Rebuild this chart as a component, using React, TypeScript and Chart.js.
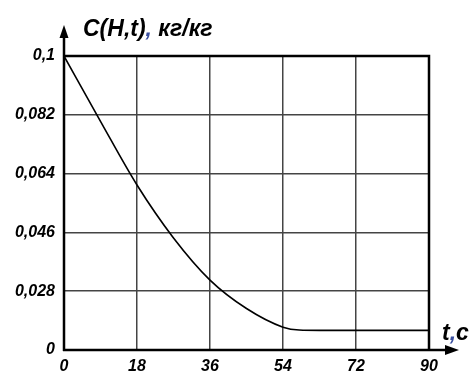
import React, { useEffect, useRef } from "react";
import { Chart, registerables } from "chart.js";

Chart.register(...registerables);

// time, s
const tValues = [0, 9, 18, 27, 36, 45, 54, 58, 63, 72, 81, 90];
// concentration C(H,t), kg/kg (axis starts at 0.01, labelled "0")
const cValues = [0.1, 0.08, 0.0605, 0.0443, 0.0314, 0.0227, 0.017, 0.0161, 0.016, 0.016, 0.016, 0.016];

const xTickValues = [0, 18, 36, 54, 72, 90];
const yTickValues = [0.01, 0.028, 0.046, 0.064, 0.082, 0.1];
const yTickLabels = ["0", "0,028", "0,046", "0,064", "0,082", "0,1"];

const yTitle = ["C(H,t)", ",", " кг/кг"];
const xTitle = ["t", ",", "c"];

const FONT = "'Liberation Sans', Arial, sans-serif";

const overlay = {
  id: "overlay",
  afterDraw(chart: any) {
    const { ctx, chartArea } = chart;
    const { left, right, top, bottom } = chartArea;
    ctx.save();
    ctx.strokeStyle = "#000";
    ctx.fillStyle = "#000";
    // y axis extension + arrow
    ctx.lineWidth = 2.5;
    ctx.beginPath();
    ctx.moveTo(left, bottom + 1);
    ctx.lineTo(left, top - 20);
    ctx.stroke();
    ctx.beginPath();
    ctx.moveTo(left, top - 31);
    ctx.lineTo(left - 4.5, top - 18);
    ctx.lineTo(left + 4.5, top - 18);
    ctx.closePath();
    ctx.fill();
    // x axis extension + arrow
    ctx.beginPath();
    ctx.moveTo(left - 1, bottom);
    ctx.lineTo(right + 18, bottom);
    ctx.stroke();
    ctx.beginPath();
    ctx.moveTo(right + 30, bottom);
    ctx.lineTo(right + 16, bottom - 5);
    ctx.lineTo(right + 16, bottom + 5);
    ctx.closePath();
    ctx.fill();
    // frame top/right
    ctx.lineWidth = 2.5;
    ctx.beginPath();
    ctx.moveTo(left, top);
    ctx.lineTo(right, top);
    ctx.lineTo(right, bottom);
    ctx.stroke();

    const drawParts = (parts: string[], x: number, y: number, size: number) => {
      ctx.font = `italic bold ${size}px ${FONT}`;
      ctx.textBaseline = "alphabetic";
      ctx.textAlign = "left";
      let cx = x;
      parts.forEach((p, i) => {
        ctx.fillStyle = i === 1 ? "#3a4fa0" : "#000";
        ctx.fillText(p, cx, y);
        cx += ctx.measureText(p).width;
      });
    };
    drawParts(yTitle, left + 19, top - 20, 23);
    drawParts(xTitle, right + 13, bottom - 10, 23);
    ctx.restore();
  },
};

export default function App() {
  const ref = useRef<HTMLCanvasElement>(null);
  useEffect(() => {
    document.body.style.margin = "0";
    const tickFont = { family: FONT, size: 16, weight: "bold" as const, style: "italic" as const };
    const chart = new Chart(ref.current!, {
      type: "line",
      data: {
        datasets: [
          {
            data: tValues.map((t, i) => ({ x: t, y: cValues[i] })),
            borderColor: "#000",
            borderWidth: 1.6,
            pointRadius: 0,
            cubicInterpolationMode: "monotone",
            fill: false,
          },
        ],
      },
      options: {
        animation: false,
        responsive: false,
        layout: { padding: { left: 0, top: 56, right: 43, bottom: 0 } },
        plugins: { legend: { display: false }, tooltip: { enabled: false } },
        scales: {
          x: {
            type: "linear",
            min: 0,
            max: 90,
            afterBuildTicks: (s: any) => {
              s.ticks = xTickValues.map((v) => ({ value: v }));
            },
            afterFit: (s: any) => {
              s.height = 22;
            },
            border: { display: false },
            grid: { color: "#444", lineWidth: 1.5, drawTicks: false },
            ticks: {
              color: "#000",
              font: tickFont,
              padding: 7,
              maxRotation: 0,
              autoSkip: false,
              callback: (v: any) => String(v),
            },
          },
          y: {
            type: "linear",
            min: 0.01,
            max: 0.1,
            afterBuildTicks: (s: any) => {
              s.ticks = yTickValues.map((v) => ({ value: v }));
            },
            afterFit: (s: any) => {
              s.width = 64;
            },
            border: { display: false },
            grid: { color: "#444", lineWidth: 1.5, drawTicks: false },
            ticks: {
              color: "#000",
              font: tickFont,
              padding: 9,
              autoSkip: false,
              callback: (_v: any, i: number) => yTickLabels[i],
            },
          },
        },
      },
      plugins: [overlay],
    });
    return () => chart.destroy();
  }, []);
  return (
    <div style={{ width: 472, height: 372 }}>
      <canvas ref={ref} width={472} height={372} style={{ display: "block" }} />
    </div>
  );
}
